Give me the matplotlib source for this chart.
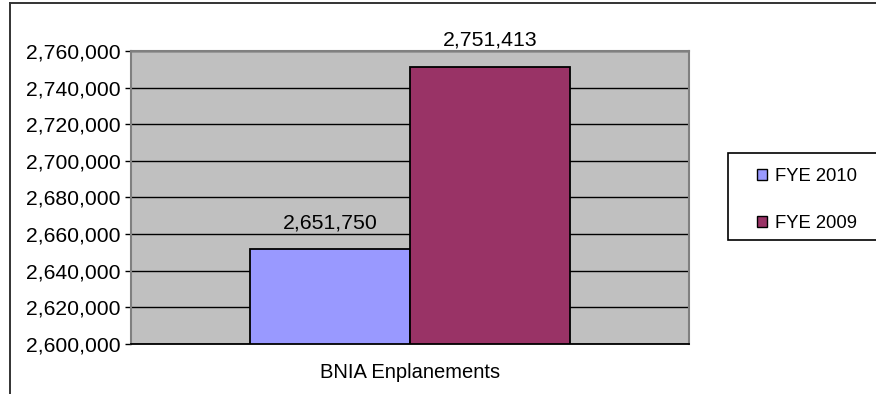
import matplotlib.pyplot as plt
from matplotlib.patches import Rectangle
from matplotlib.lines import Line2D
from matplotlib.ticker import FuncFormatter

plt.rcParams['font.family'] = ['Liberation Sans', 'DejaVu Sans']

category = 'BNIA Enplanements'
series_names = ['FYE 2010', 'FYE 2009']
values = [2651750, 2751413]
colors = ['#9999FF', '#993366']
y_ticks = list(range(2600000, 2760001, 20000))

W, H = 876, 394
fig = plt.figure(figsize=(W / 100, H / 100), dpi=100)

# outer chart border (only left and top edges are inside the picture)
fig.add_artist(Line2D([10/W, 10/W], [0, 1 - 3/H], color='#333333', lw=1.4))
fig.add_artist(Line2D([10/W, 1], [1 - 3/H, 1 - 3/H], color='#333333', lw=1.4))

ax = fig.add_axes([131/W, 1 - 344/H, 558/W, 293/H])
ax.set_facecolor('#C0C0C0')

bar_w = 160 / 558
xs = [-bar_w / 2, bar_w / 2]
for x, v, c, name in zip(xs, values, colors, series_names):
    ax.bar(x, v - y_ticks[0], bottom=y_ticks[0], width=bar_w, color=c,
           edgecolor='black', linewidth=1.3, label=name, zorder=3)
    ax.annotate(f'{v:,}', xy=(x, v), xytext=(0, 19), textcoords='offset points',
                ha='center', va='center', fontsize=15.3)

ax.set_xlim(-0.5, 0.5)
ax.set_ylim(y_ticks[0], y_ticks[-1])
ax.set_yticks(y_ticks)
ax.yaxis.set_major_formatter(FuncFormatter(lambda v, p: f'{int(v):,}'))
ax.tick_params(axis='y', labelsize=15.2, length=4.5, width=1, color='black', pad=3)
ax.set_xticks([0])
ax.set_xticklabels([category], fontsize=14.5)
ax.tick_params(axis='x', length=0, pad=14)
ax.yaxis.grid(True, color='black', linewidth=1)
ax.set_axisbelow(True)

for side in ['left', 'top', 'right']:
    ax.spines[side].set_color('#808080')
    ax.spines[side].set_linewidth(1.5)
ax.spines['bottom'].set_color('black')
ax.spines['bottom'].set_linewidth(1.3)

# legend box runs off the right edge like the reference
fig.add_artist(Rectangle((728/W, 1 - 240/H), 200/W, 87/H, transform=fig.transFigure,
                         facecolor='white', edgecolor='black', linewidth=1.2))
handles, labels = ax.get_legend_handles_labels()
leg = fig.legend(handles, labels, loc='center left',
                 bbox_to_anchor=(757/W, 1 - 200/H), fontsize=13.3,
                 frameon=False, handlelength=0.55, handleheight=0.55,
                 handletextpad=0.45, labelspacing=1.6, borderpad=0,
                 borderaxespad=0)
for h in leg.legend_handles:
    h.set_linewidth(1)

fig.savefig('out.png', dpi=100)
